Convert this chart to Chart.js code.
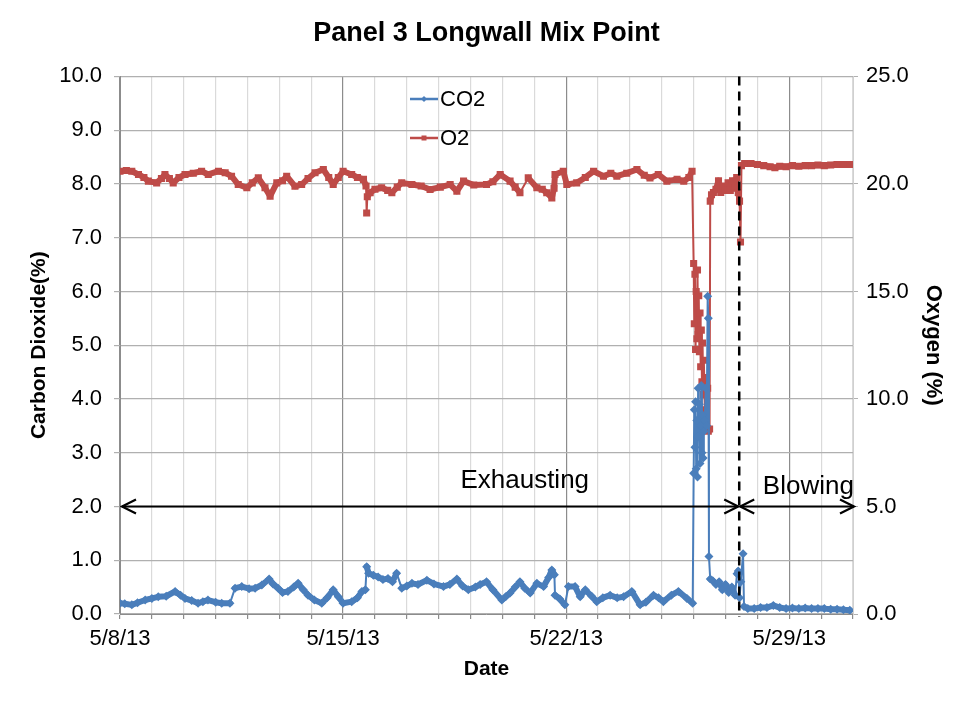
<!DOCTYPE html>
<html>
<head>
<meta charset="utf-8">
<script src="https://cdn.jsdelivr.net/npm/chart.js@4.4.1/dist/chart.umd.min.js"></script>
<style>
  html, body { margin: 0; padding: 0; background: #ffffff; }
  canvas { display: block; }
</style>
</head>
<body>
<canvas id="chart" width="964" height="702"></canvas>
<script>
// Days elapsed since 5/8/13 00:00 and CO2 concentration (%)
const co2Day = [
  0.00, 0.15, 0.37, 0.55, 0.79, 1.00, 1.20, 1.45, 1.73, 1.90, 2.04, 2.25, 2.45, 2.60, 2.76, 3.00,
  3.19, 3.45, 3.61, 3.82, 4.05, 4.24, 4.45, 4.68, 4.80, 4.96, 5.10, 5.27, 5.45, 5.59, 5.75, 5.90,
  6.10, 6.33, 6.50, 6.69, 6.85, 7.00, 7.27, 7.45, 7.59, 7.70, 7.74, 7.80, 7.95, 8.10, 8.25, 8.41,
  8.55, 8.68, 8.84, 9.00, 9.16, 9.35, 9.63, 9.85, 10.15, 10.35, 10.57, 10.75, 10.93, 11.15, 11.30,
  11.50, 11.70, 11.98, 12.10, 12.24, 12.40, 12.55, 12.70, 12.87, 13.08, 13.29, 13.45, 13.55, 13.63,
  13.65, 13.80, 13.96, 14.07, 14.28, 14.44, 14.60, 14.80, 14.96, 15.15, 15.38, 15.60, 15.80, 16.06,
  16.32, 16.50, 16.74, 16.90, 17.05, 17.30, 17.52, 17.79, 17.97,
  18.00, 18.02, 18.04, 18.06, 18.08, 18.10, 18.12, 18.14, 18.16, 18.18, 18.20, 18.22, 18.24, 18.26,
  18.28, 18.30, 18.32, 18.35, 18.38, 18.41, 18.44, 18.46, 18.48, 18.52, 18.60, 18.70, 18.80, 18.90,
  19.00, 19.10, 19.20, 19.30, 19.36, 19.40, 19.44, 19.48, 19.55, 19.58, 19.70, 19.90, 20.10, 20.30,
  20.50, 20.70, 20.90, 21.10, 21.30, 21.50, 21.70, 21.90, 22.10, 22.30, 22.50, 22.70, 22.90
];
const co2Pct = [
  0.20, 0.19, 0.17, 0.21, 0.26, 0.29, 0.32, 0.33, 0.42, 0.35, 0.29, 0.25, 0.20, 0.23, 0.26, 0.22,
  0.20, 0.20, 0.48, 0.51, 0.47, 0.48, 0.54, 0.65, 0.56, 0.48, 0.40, 0.42, 0.50, 0.57, 0.45, 0.35,
  0.26, 0.20, 0.30, 0.45, 0.32, 0.20, 0.23, 0.30, 0.42, 0.45, 0.88, 0.76, 0.72, 0.69, 0.64, 0.66,
  0.60, 0.76, 0.48, 0.52, 0.57, 0.55, 0.63, 0.56, 0.51, 0.55, 0.65, 0.52, 0.45, 0.50, 0.55,
  0.60, 0.45, 0.26, 0.32, 0.39, 0.50, 0.60, 0.48, 0.39, 0.57, 0.51, 0.68, 0.82, 0.73,
  0.35, 0.28, 0.17, 0.51, 0.51, 0.32, 0.45, 0.33, 0.23, 0.30, 0.35, 0.30, 0.32, 0.42,
  0.17, 0.22, 0.35, 0.30, 0.23, 0.35, 0.42, 0.29, 0.20,
  2.62, 3.80, 3.10, 3.95, 2.70, 3.60, 2.55, 4.20, 3.30, 3.90, 2.80, 3.50, 4.25, 3.00,
  3.70, 2.90, 3.40, 3.60, 4.20, 3.50, 5.91, 5.50, 1.07, 0.65, 0.62, 0.55, 0.60, 0.45,
  0.55, 0.40, 0.50, 0.35, 0.75, 0.80, 0.30, 0.60, 1.12, 0.14, 0.10, 0.10, 0.12, 0.12,
  0.16, 0.12, 0.10, 0.11, 0.10, 0.11, 0.10, 0.10, 0.10, 0.09, 0.09, 0.08, 0.07
];

// Days elapsed since 5/8/13 00:00 and O2 concentration (%)
const o2Day = [
  0.00, 0.20, 0.37, 0.58, 0.75, 0.89, 1.15, 1.30, 1.41, 1.55, 1.67, 1.85, 2.04, 2.30, 2.56, 2.77,
  3.09, 3.30, 3.50, 3.71, 3.98, 4.15, 4.34, 4.55, 4.71, 4.92, 5.10, 5.23, 5.49, 5.70, 5.90, 6.12,
  6.38, 6.55, 6.69, 6.85, 7.00, 7.27, 7.45, 7.64, 7.72, 7.74, 7.76, 7.85, 8.00, 8.21, 8.40, 8.53,
  8.70, 8.84, 9.16, 9.45, 9.73, 10.05, 10.36, 10.57, 10.78, 11.10, 11.50, 11.70, 11.93, 12.24,
  12.40, 12.55, 12.81, 13.08, 13.25, 13.39, 13.55, 13.62, 13.65, 13.91, 14.02, 14.33, 14.60, 14.86,
  15.17, 15.40, 15.59, 15.90, 16.22, 16.45, 16.63, 16.89, 17.16, 17.48, 17.69, 17.85, 17.95,
  18.00, 18.02, 18.04, 18.06, 18.08, 18.10, 18.12, 18.14, 18.16, 18.18, 18.20, 18.22, 18.24, 18.26,
  18.28, 18.30, 18.32, 18.35, 18.38, 18.41, 18.44, 18.46, 18.50, 18.52, 18.56, 18.62, 18.70, 18.78,
  18.85, 18.92, 19.00, 19.08, 19.15, 19.22, 19.30, 19.35, 19.40, 19.44, 19.47, 19.50, 19.60, 19.80,
  20.00, 20.20, 20.40, 20.55, 20.70, 20.90, 21.10, 21.30, 21.50, 21.70, 21.90, 22.10, 22.30, 22.50,
  22.70, 22.90
];
const o2Pct = [
  20.59, 20.62, 20.59, 20.44, 20.30, 20.13, 20.05, 20.25, 20.44, 20.25, 20.05, 20.30, 20.44, 20.50, 20.59, 20.44,
  20.59, 20.52, 20.36, 19.97, 19.82, 20.05, 20.28, 19.82, 19.43, 20.05, 20.15, 20.36, 19.89, 19.97, 20.25, 20.52,
  20.67, 20.30, 19.97, 20.30, 20.59, 20.44, 20.30, 20.21, 19.90, 18.65, 19.40, 19.59, 19.75, 19.82, 19.70, 19.59,
  19.85, 20.05, 19.97, 19.90, 19.74, 19.85, 19.97, 19.66, 20.13, 19.95, 19.97, 20.10, 20.44, 20.13,
  19.85, 19.59, 20.28, 19.82, 19.75, 19.59, 19.35, 19.80, 20.44, 20.59, 19.97, 20.05, 20.30, 20.59,
  20.36, 20.50, 20.36, 20.50, 20.67, 20.40, 20.28, 20.44, 20.13, 20.21, 20.13, 20.30, 20.59,
  16.30, 13.50, 15.80, 12.30, 15.00, 12.80, 16.00, 13.00, 14.80, 12.20, 14.00, 11.50, 13.20, 10.80,
  12.60, 10.20, 11.80, 9.50, 11.00, 8.60, 10.50, 8.50, 8.60, 19.20, 19.50, 19.60, 19.75, 20.15,
  19.60, 19.90, 19.70, 20.05, 19.70, 20.15, 19.80, 20.30, 19.60, 19.20, 17.30, 20.85, 20.95, 20.95,
  20.90, 20.85, 20.80, 20.75, 20.82, 20.80, 20.85, 20.82, 20.85, 20.85, 20.88, 20.85, 20.88, 20.90,
  20.90, 20.90
];

// Date labels for the weekly ticks (day 0, 7, 14, 21)
const weekDays = [0, 7, 14, 21];
const weekLabels = ['5/8/13', '5/15/13', '5/22/13', '5/29/13'];

// Ventilation change: exhausting before, blowing after
const switchDay = 19.43;
const phaseLabels = ['Exhausting', 'Blowing'];
const phaseArrowLevel = 2.0;            // CO2 axis units
const phaseLabelPos = [[12.7, 2.48], [21.6, 2.37]];

const seriesNames = ['CO2', 'O2'];
const CO2_COLOR = '#4a7ebb';
const O2_COLOR = '#be4b48';
const FONT = '"Liberation Sans", Arial, sans-serif';

const toPoints = (xs, ys) => xs.map((x, i) => ({ x: x, y: ys[i] }));

// steep jumps are drawn as thin strokes, the noisy trace as a heavy band
const segmentWidth = (c) => Math.abs(c.p1.y - c.p0.y) > 14 ? 2 : 6;

function drawArrowHead(ctx, x, y, dir) {
  const len = 14, half = 7;
  ctx.beginPath();
  ctx.moveTo(x - dir * len, y - half);
  ctx.lineTo(x, y);
  ctx.lineTo(x - dir * len, y + half);
  ctx.stroke();
}

const overlayPlugin = {
  id: 'overlay',
  afterDatasetsDraw(chart) {
    const { ctx, chartArea, scales } = chart;
    const xs = scales.x, ys = scales.y;
    const xSwitch = xs.getPixelForValue(switchDay);
    ctx.save();

    // dashed switch-over line
    ctx.strokeStyle = '#000';
    ctx.lineWidth = 2.5;
    ctx.setLineDash([9, 6]);
    ctx.beginPath();
    ctx.moveTo(xSwitch, chartArea.top);
    ctx.lineTo(xSwitch, chartArea.bottom + 3);
    ctx.stroke();
    ctx.setLineDash([]);

    // phase arrows
    const yA = ys.getPixelForValue(phaseArrowLevel);
    const x0 = xs.getPixelForValue(xs.min) + 2;
    const x1 = xs.getPixelForValue(xs.max) + 1;
    ctx.lineWidth = 2.2;
    ctx.beginPath();
    ctx.moveTo(x0, yA); ctx.lineTo(xSwitch - 1, yA);
    ctx.moveTo(xSwitch + 1, yA); ctx.lineTo(x1, yA);
    ctx.stroke();
    drawArrowHead(ctx, x0, yA, -1);
    drawArrowHead(ctx, xSwitch - 1, yA, 1);
    drawArrowHead(ctx, xSwitch + 1, yA, -1);
    drawArrowHead(ctx, x1, yA, 1);

    ctx.fillStyle = '#000';
    ctx.font = '26px ' + FONT;
    ctx.textAlign = 'center';
    ctx.textBaseline = 'middle';
    phaseLabels.forEach((t, i) => {
      ctx.fillText(t, xs.getPixelForValue(phaseLabelPos[i][0]), ys.getPixelForValue(phaseLabelPos[i][1]));
    });

    // legend: line sample with marker and series name
    const legendX = 410, legendY = [99, 138];
    const colors = [CO2_COLOR, O2_COLOR];
    ctx.font = '22px ' + FONT;
    ctx.textAlign = 'left';
    seriesNames.forEach((name, i) => {
      const y = legendY[i];
      ctx.strokeStyle = colors[i];
      ctx.fillStyle = colors[i];
      ctx.lineWidth = 2.5;
      ctx.beginPath();
      ctx.moveTo(legendX, y); ctx.lineTo(legendX + 28, y);
      ctx.stroke();
      ctx.beginPath();
      if (i === 0) {
        ctx.moveTo(legendX + 14, y - 3); ctx.lineTo(legendX + 17, y);
        ctx.lineTo(legendX + 14, y + 3); ctx.lineTo(legendX + 11, y);
        ctx.closePath(); ctx.fill();
      } else {
        ctx.fillRect(legendX + 11.5, y - 2.5, 5, 5);
      }
      ctx.fillStyle = '#000';
      ctx.fillText(name, legendX + 30, y + 1);
    });
    ctx.restore();
  }
};

new Chart(document.getElementById('chart'), {
  type: 'line',
  data: {
    datasets: [
      {
        label: seriesNames[0],
        data: toPoints(co2Day, co2Pct),
        yAxisID: 'y',
        borderColor: CO2_COLOR,
        backgroundColor: CO2_COLOR,
        borderWidth: 6,
        segment: { borderWidth: segmentWidth },
        pointStyle: 'rectRot',
        pointRadius: 4.5,
        pointBorderWidth: 0,
        borderJoinStyle: 'round',
        borderCapStyle: 'round',
        tension: 0
      },
      {
        label: seriesNames[1],
        data: toPoints(o2Day, o2Pct),
        yAxisID: 'y2',
        borderColor: O2_COLOR,
        backgroundColor: O2_COLOR,
        borderWidth: 6,
        segment: { borderWidth: segmentWidth },
        pointStyle: 'rect',
        pointRadius: 5,
        pointBorderWidth: 0,
        borderJoinStyle: 'round',
        borderCapStyle: 'round',
        tension: 0
      }
    ]
  },
  options: {
    responsive: false,
    animation: false,
    events: [],
    layout: { padding: 0 },
    plugins: {
      legend: { display: false },
      tooltip: { enabled: false },
      title: {
        display: true,
        text: 'Panel 3 Longwall Mix Point',
        color: '#000',
        fullSize: false,
        font: { family: FONT, size: 27, weight: 'bold' },
        padding: { top: 17, bottom: 27 }
      }
    },
    scales: {
      x: {
        type: 'linear',
        min: 0,
        max: 23,
        afterFit(scale) { scale.height = 88; },
        ticks: {
          stepSize: 1,
          autoSkip: false,
          maxRotation: 0,
          padding: 7,
          color: '#000',
          font: { family: FONT, size: 22 },
          callback(v) {
            const k = weekDays.indexOf(v);
            return k >= 0 ? weekLabels[k] : '';
          }
        },
        grid: {
          color: (c) => (c.tick && weekDays.indexOf(c.tick.value) >= 0) ? '#8c8c8c' : '#dadada',
          lineWidth: 1.2,
          tickLength: 5,
          tickColor: '#8c8c8c'
        },
        border: { color: '#8c8c8c' },
        title: {
          display: true,
          text: 'Date',
          color: '#000',
          font: { family: FONT, size: 21, weight: 'bold' },
          padding: { top: 0, bottom: 20 }
        }
      },
      y: {
        position: 'left',
        min: 0,
        max: 10,
        afterFit(scale) { scale.width = 120; },
        ticks: {
          stepSize: 1,
          padding: 12,
          color: '#000',
          font: { family: FONT, size: 22 },
          callback: (v) => v.toFixed(1)
        },
        grid: { color: '#b0b0b0', lineWidth: 1.2, tickLength: 6 },
        border: { color: '#8c8c8c' },
        title: {
          display: true,
          text: 'Carbon Dioxide(%)',
          color: '#000',
          font: { family: FONT, size: 21, weight: 'bold' },
          padding: { top: 27, bottom: 0 }
        }
      },
      y2: {
        position: 'right',
        min: 0,
        max: 25,
        afterFit(scale) { scale.width = 111; },
        ticks: {
          stepSize: 5,
          padding: 8,
          color: '#000',
          font: { family: FONT, size: 22 },
          callback: (v) => v.toFixed(1)
        },
        grid: { drawOnChartArea: false, tickLength: 5, color: '#b0b0b0' },
        border: { color: '#d0d0d0' },
        title: {
          display: true,
          text: 'Oxygen (%)',
          color: '#000',
          font: { family: FONT, size: 22, weight: 'bold' },
          padding: { top: 18, bottom: 0 }
        }
      }
    }
  },
  plugins: [overlayPlugin]
});
</script>
</body>
</html>
